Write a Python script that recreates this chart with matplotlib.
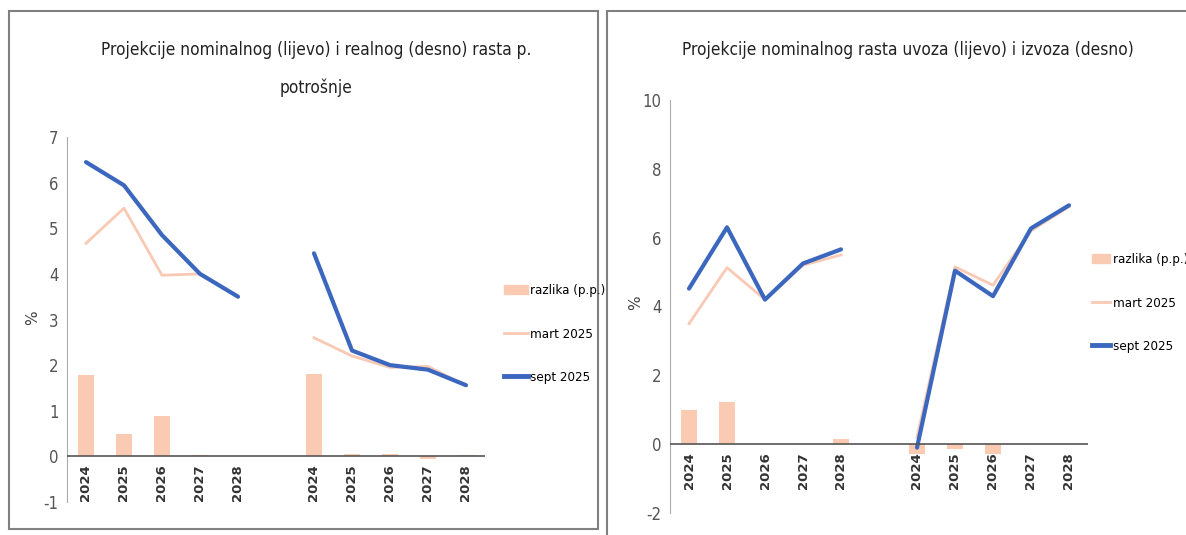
import matplotlib
matplotlib.use("Agg")
import numpy as np
import matplotlib.pyplot as plt
from matplotlib.patches import Patch, Rectangle
from matplotlib.lines import Line2D

# categories: two blocks of years separated by one empty slot
years = ["2024", "2025", "2026", "2027", "2028", "", "2024", "2025", "2026", "2027", "2028"]

# left chart: nominal (left block) and real (right block) private consumption growth
cons_mart = [4.67, 5.44, 3.97, 4.0, 3.5, np.nan, 2.6, 2.2, 1.95, 1.97, 1.55]
cons_sept = [6.45, 5.94, 4.85, 4.0, 3.5, np.nan, 4.45, 2.32, 2.0, 1.9, 1.56]
cons_diff = [1.78, 0.5, 0.88, 0.02, 0.0, np.nan, 1.8, 0.05, 0.05, -0.05, 0.02]

# right chart: nominal growth of imports (left block) and exports (right block)
trade_mart = [3.5, 5.13, 4.2, 5.2, 5.5, np.nan, 0.2, 5.15, 4.62, 6.2, 6.9]
trade_sept = [4.52, 6.3, 4.2, 5.25, 5.66, np.nan, -0.1, 5.04, 4.3, 6.27, 6.94]
trade_diff = [1.0, 1.22, 0.0, 0.0, 0.15, np.nan, -0.3, -0.15, -0.3, 0.0, 0.0]

FONT = "DejaVu Sans"
STRETCH = "condensed"
C_SEPT = "#3b67bf"
C_MART = "#f9c9b4"
C_BAR = "#fbcab3"

W, H = 1186, 535
fig = plt.figure(figsize=(W / 100, H / 100), dpi=100)


def px(x0, y_top, x1, y_bot):
    return [x0 / W, 1 - y_bot / H, (x1 - x0) / W, (y_bot - y_top) / H]


def panel(rect, title, title_xy, diff, mart, sept, ylim, yticks, leg_xy, ylab_xy, hlen):
    ax = fig.add_axes(rect)
    x = np.arange(len(years))
    ax.bar(x, np.nan_to_num(diff), width=0.4, color=C_BAR, zorder=1)
    ax.plot(x, mart, color=C_MART, lw=2, zorder=2)
    ax.plot(x, sept, color=C_SEPT, lw=3, zorder=3, solid_capstyle="round")
    ax.axhline(0, color="#555555", lw=1.2, zorder=4)
    ax.set_xlim(-0.5, len(years) - 0.5)
    ax.set_ylim(*ylim)
    ax.set_yticks(yticks)
    ax.set_yticklabels([str(t) for t in yticks], family=FONT, stretch=STRETCH,
                       fontsize=12, color="#555555")
    ax.set_xticks([])
    # year labels sit just under the zero line, as in the source
    for xi, lab in zip(x, years):
        ax.annotate(lab, (xi, 0), xytext=(0, -6), textcoords="offset points",
                    rotation=90, ha="center", va="top", fontsize=9.5,
                    fontweight="bold", color="#333333")
    ax.tick_params(length=0, pad=6)
    for s in ["top", "right", "bottom"]:
        ax.spines[s].set_visible(False)
    ax.spines["left"].set_color("#aaaaaa")
    fig.text(ylab_xy[0] / W, 1 - ylab_xy[1] / H, "%", rotation=90, fontsize=11,
             color="#444444", family=FONT, ha="center", va="center")
    fig.text(title_xy[0] / W, 1 - title_xy[1] / H, title, ha="center", va="center",
             family=FONT, stretch=STRETCH, fontsize=12.4, color="#222222",
             linespacing=2.35)
    handles = [Patch(color=C_BAR), Line2D([], [], color=C_MART, lw=2),
               Line2D([], [], color=C_SEPT, lw=3.5)]
    fig.legend(handles, ["razlika (p.p.)", "mart 2025", "sept 2025"],
               loc="center left", bbox_to_anchor=(leg_xy[0] / W, 1 - leg_xy[1] / H),
               frameon=False, prop={"family": FONT, "stretch": STRETCH, "size": 9.5},
               labelspacing=2.3, handlelength=hlen, handletextpad=0.2)
    return ax


panel(px(67, 137, 485, 502),
      "Projekcije nominalnog (lijevo) i realnog (desno) rasta p.\npotrošnje", (316, 69),
      cons_diff, cons_mart, cons_sept, (-1, 7), list(range(-1, 8)), (492, 334), (33, 318),
      1.8)
panel(px(670, 100, 1088, 513),
      "Projekcije nominalnog rasta uvoza (lijevo) i izvoza (desno)", (908, 50),
      trade_diff, trade_mart, trade_sept, (-2, 10), list(range(-2, 11, 2)), (1080, 303),
      (636, 303), 1.4)

# panel frames
for x0, y0, x1, y1 in [(9, 11, 598, 529), (607, 11, 1192, 540)]:
    fig.patches.append(Rectangle((x0 / W, 1 - y1 / H), (x1 - x0) / W, (y1 - y0) / H,
                                 transform=fig.transFigure, fill=False,
                                 edgecolor="#808080", lw=1.5))

fig.savefig("out.png", dpi=100)
